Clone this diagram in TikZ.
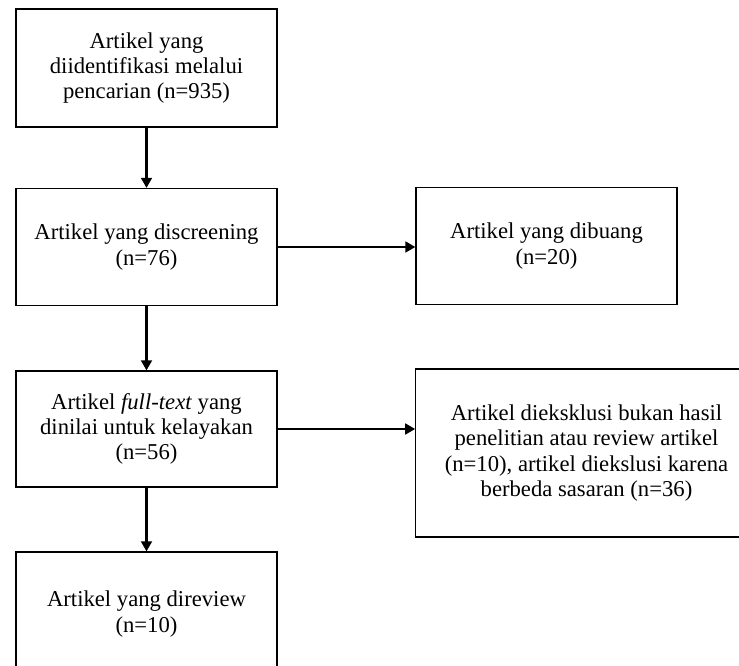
\documentclass[tikz,border=0pt]{standalone}
\usepackage{fontspec}
\setmainfont{Liberation Serif}
\usetikzlibrary{arrows.meta}
\tikzset{
	kotak/.style={draw=black, line width=.9pt, minimum width=195.75pt, align=center, inner sep=2pt, font=\fontsize{17}{19}\selectfont},
	panah/.style={line width=2pt, -{Triangle[length=7.5pt,width=8pt]}}
}
\begin{document}
\begin{tikzpicture}[x=.75pt, y=-.75pt]
	\useasboundingbox (0,0) rectangle (739,666);
	%kolom kiri
	\node[kotak, minimum height=88.5pt] (identifikasi) at (146.5,68)  {Artikel yang\\diidentifikasi melalui\\pencarian (n=935)};
	\node[kotak, minimum height=87.75pt] (discreening) at (146.5,247) {Artikel yang discreening\\(n=76)};
	\node[kotak, minimum height=87pt]    (fulltext)    at (146.5,429) {Artikel \textit{full-text} yang\\dinilai untuk kelayakan\\(n=56)};
	\node[kotak, minimum height=93pt]    (direview)    at (146.5,614) {Artikel yang direview\\(n=10)};
	%kolom kanan
	\node[kotak, minimum height=87.75pt] (dibuang)     at (546.5,246) {Artikel yang dibuang\\(n=20)};
	\node[kotak, minimum height=126pt, minimum width=256pt] (dieksklusi) at (586.5,453) {Artikel dieksklusi bukan hasil\\penelitian atau review artikel\\(n=10), artikel diekslusi karena\\berbeda sasaran (n=36)};
	%panah
	\draw[panah] (identifikasi) -- (discreening);
	\draw[panah] (discreening) -- (fulltext);
	\draw[panah] (fulltext) -- (direview);
	\draw[panah] (discreening.east) -- (discreening.east -| dibuang.west);
	\draw[panah] (fulltext.east) -- (fulltext.east -| dieksklusi.west);
\end{tikzpicture}
\end{document}
